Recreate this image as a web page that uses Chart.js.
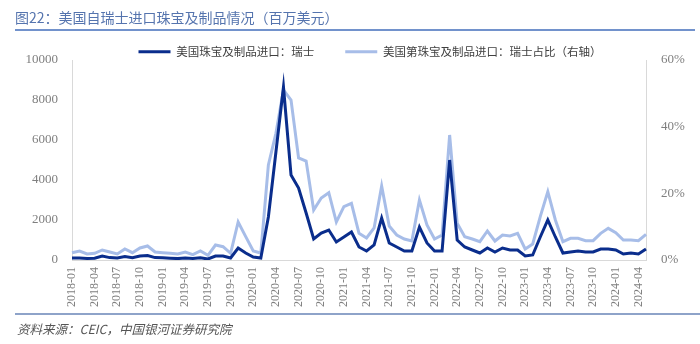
<!DOCTYPE html>
<html>
<head>
<meta charset="utf-8">
<script src="https://cdn.jsdelivr.net/npm/chart.js@4.4.1/dist/chart.umd.min.js"></script>
<style>
body{margin:0;background:#fff;}
#wrap{position:relative;width:700px;height:344px;overflow:hidden;}
#title{position:absolute;left:15px;top:7px;font:14px "Noto Sans CJK SC";color:#5574ae;white-space:nowrap;}
#rule1{position:absolute;left:15px;top:29px;width:680px;height:2px;background:#7292cc;}
#rule2{position:absolute;left:15px;top:313px;width:685px;height:2px;background:#8ea3c9;}
#source{position:absolute;left:17px;top:319px;font:italic 12.5px "Noto Sans CJK SC";color:#555;white-space:nowrap;}
canvas{position:absolute;left:0;top:0;}
</style>
</head>
<body>
<div id="wrap">
<canvas id="myChart" width="700" height="344"></canvas>
<div id="title">图22：美国自瑞士进口珠宝及制品情况（百万美元）</div>
<div id="rule1"></div>
<div id="rule2"></div>
<div id="source">资料来源：CEIC，中国银河证券研究院</div>
</div>
<script>
// months 2018-01 .. 2024-05
var months = [];
for (var y = 2018; y <= 2024; y++) {
  for (var m = 1; m <= 12; m++) {
    if (y == 2024 && m > 5) break;
    months.push(y + '-' + (m < 10 ? '0' + m : m));
  }
}

// 美国珠宝及制品进口：瑞士 (百万美元)
var importSwiss = [
  100, 100, 80, 90, 200, 120, 100, 170, 110, 200, 220, 120,
  110, 90, 70, 100, 80, 110, 50, 200, 200, 100, 600, 350,
  150, 100, 2150, 5400, 8650, 4250, 3600, 2350, 1050, 1350, 1500, 900,
  1150, 1400, 650, 450, 750, 2100, 850, 650, 450, 450, 1650, 850,
  450, 450, 5000, 1000, 650, 500, 350, 600, 400, 600, 500, 500,
  200, 250, 1150, 2000, 1150, 350, 400, 450, 400, 400, 550, 550,
  500, 300, 350, 300, 550
];

// 瑞士占比 (%), right axis
var swissShare = [
  2.2, 2.7, 1.8, 2.0, 3.0, 2.4, 1.8, 3.3, 2.2, 3.6, 4.2, 2.4,
  2.2, 2.0, 1.8, 2.4, 1.6, 2.7, 1.4, 4.5, 4.0, 2.0, 11.4, 7.0,
  2.7, 2.1, 28.5, 38, 51, 48, 30.6, 29.7, 15, 18.6, 20.2, 11.4,
  16, 17, 8, 6.6, 9.6, 22.2, 10.2, 7.5, 6.3, 5.7, 18, 10.5,
  6.3, 7.5, 37.5, 11, 7, 6.3, 5.5, 8.7, 5.7, 7.5, 7.2, 8,
  3.3, 4.8, 13, 20.5, 12, 5.5, 6.5, 6.5, 5.8, 5.8, 8, 9.5,
  8.2, 6, 6, 5.8, 7.7
];

var leftTicks = [0, 2000, 4000, 6000, 8000, 10000];
var rightTicks = [0, 20, 40, 60];

var darkBlue = '#0a2d8c';
var lightBlue = '#a7bde8';
var tickFont = {family: 'Liberation Serif', size: 13};

// legend sits a bit right of centre in the original
var legendShift = {
  id: 'legendShift',
  afterLayout: function(chart) { chart.legend.left += 40; }
};

var ctx = document.getElementById('myChart');
var myChart = new Chart(ctx, {
  type: 'line',
  data: {
    labels: months,
    datasets: [{
      label: '美国珠宝及制品进口：瑞士',
      data: importSwiss,
      yAxisID: 'y',
      borderColor: darkBlue,
      backgroundColor: darkBlue,
      borderWidth: 3,
      pointRadius: 0,
      tension: 0
    }, {
      label: '美国第珠宝及制品进口：瑞士占比（右轴）',
      data: swissShare,
      yAxisID: 'y1',
      borderColor: lightBlue,
      backgroundColor: lightBlue,
      borderWidth: 3,
      pointRadius: 0,
      tension: 0
    }]
  },
  plugins: [legendShift],
  options: {
    responsive: false,
    animation: false,
    devicePixelRatio: 1,
    layout: {padding: {top: 15, left: 0, right: 0, bottom: 0}},
    plugins: {
      tooltip: {enabled: false},
      legend: {
        position: 'top',
        maxHeight: 45,
        labels: {
          boxWidth: 32,
          boxHeight: 3,
          padding: 31,
          color: '#404040',
          font: {family: 'Noto Sans CJK SC', size: 11.5},
          generateLabels: function(chart) {
            var items = Chart.defaults.plugins.legend.labels.generateLabels(chart);
            items.forEach(function(it) { it.lineWidth = 0; it.fillStyle = it.strokeStyle; });
            return items;
          }
        }
      }
    },
    scales: {
      x: {
        offset: false,
        grid: {display: false, drawTicks: false},
        border: {display: true, color: '#d9d9d9', width: 1},
        ticks: {
          autoSkip: false,
          maxRotation: 90,
          minRotation: 90,
          padding: 7,
          color: '#7f7f7f',
          font: {family: 'Liberation Serif', size: 12},
          callback: function(v, i) { return i % 3 === 0 ? this.getLabelForValue(v) : ''; }
        },
        afterFit: function(s) { s.height = 84; }
      },
      y: {
        position: 'left',
        min: 0,
        max: 10000,
        grid: {display: false, drawTicks: false},
        border: {display: true, color: '#d9d9d9', width: 1},
        afterBuildTicks: function(s) { s.ticks = leftTicks.map(function(v) { return {value: v}; }); },
        ticks: {
          padding: 14,
          color: '#7f7f7f',
          font: tickFont,
          callback: function(v) { return String(v); }
        },
        afterFit: function(s) { s.width = 72; }
      },
      y1: {
        position: 'right',
        min: 0,
        max: 60,
        grid: {display: false, drawTicks: false},
        border: {display: true, color: '#d9d9d9', width: 1},
        afterBuildTicks: function(s) { s.ticks = rightTicks.map(function(v) { return {value: v}; }); },
        ticks: {
          padding: 15,
          color: '#7f7f7f',
          font: tickFont,
          callback: function(v) { return v + '%'; }
        },
        afterFit: function(s) { s.width = 54; }
      }
    }
  }
});
</script>
</body>
</html>
